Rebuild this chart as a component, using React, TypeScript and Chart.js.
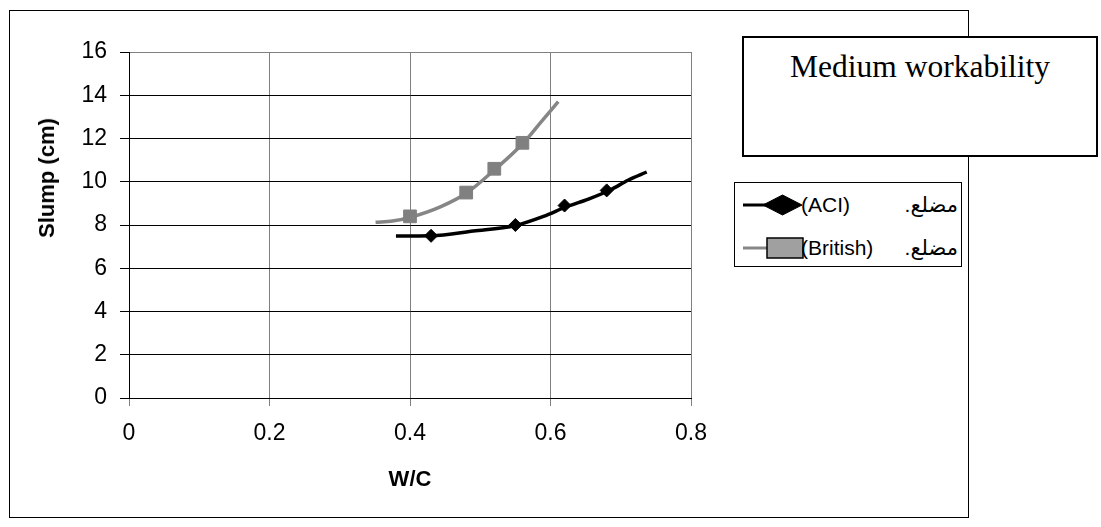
import React, { useEffect, useRef } from 'react';
import { Chart, registerables } from 'chart.js';

Chart.register(...registerables);

// Measured data points (markers)
const aciX = [0.43, 0.55, 0.62, 0.68];
const aciY = [7.5, 8.0, 8.9, 9.6];
const britishX = [0.40, 0.48, 0.52, 0.56];
const britishY = [8.4, 9.5, 10.6, 11.8];

// Polynomial trend curves
const aciTrendX = [0.38, 0.43, 0.49, 0.55, 0.59, 0.623, 0.654, 0.685, 0.711, 0.737];
const aciTrendY = [7.49, 7.5, 7.72, 7.98, 8.4, 8.85, 9.2, 9.62, 10.08, 10.45];
const britishTrendX = [0.351, 0.375, 0.401, 0.444, 0.481, 0.521, 0.561, 0.587, 0.611];
const britishTrendY = [8.13, 8.18, 8.36, 8.85, 9.49, 10.57, 11.78, 12.78, 13.7];

const xTickLabels = ['0', '0.2', '0.4', '0.6', '0.8'];
const yTickLabels = ['0', '2', '4', '6', '8', '10', '12', '14', '16'];
const legendLabels = ['مضلع. (ACI)', 'مضلع. (British)'];
const xTitle = 'W/C';
const yTitle = 'Slump (cm)';
const boxText = 'Medium workability';

const toPoints = (xs: number[], ys: number[]) => xs.map((x, i) => ({ x, y: ys[i] }));

const SANS = '"Liberation Sans", Arial, "DejaVu Sans", sans-serif';

export default function App() {
  const canvasRef = useRef<HTMLCanvasElement | null>(null);

  useEffect(() => {
    const canvas = canvasRef.current;
    if (!canvas) return;
    const chart = new Chart(canvas, {
      type: 'scatter',
      data: {
        datasets: [
          {
            label: 'ACI',
            data: toPoints(aciX, aciY),
            showLine: false,
            pointStyle: 'rectRot',
            pointRadius: 6.5,
            backgroundColor: '#000000',
            borderColor: '#000000',
            borderWidth: 1,
          },
          {
            label: 'British',
            data: toPoints(britishX, britishY),
            showLine: false,
            pointStyle: 'rect',
            pointRadius: 9,
            backgroundColor: '#808080',
            borderColor: '#808080',
            borderWidth: 1,
          },
          {
            label: legendLabels[0],
            data: toPoints(aciTrendX, aciTrendY),
            showLine: true,
            borderColor: '#000000',
            borderWidth: 3.5,
            pointRadius: 0,
            cubicInterpolationMode: 'monotone',
          },
          {
            label: legendLabels[1],
            data: toPoints(britishTrendX, britishTrendY),
            showLine: true,
            borderColor: '#868686',
            borderWidth: 3.5,
            pointRadius: 0,
            cubicInterpolationMode: 'monotone',
          },
        ],
      },
      options: {
        responsive: false,
        animation: false,
        devicePixelRatio: 1,
        layout: { padding: { left: 0, top: 52, right: 410, bottom: 0 } },
        plugins: { legend: { display: false }, tooltip: { enabled: false } },
        scales: {
          x: {
            type: 'linear',
            min: 0,
            max: 0.8,
            afterFit: (s: any) => { s.height = 129; },
            ticks: {
              stepSize: 0.2,
              callback: (_v: any, i: number) => xTickLabels[i],
              color: '#000',
              font: { family: SANS, size: 23 },
              padding: 14,
              maxRotation: 0,
            },
            grid: { color: '#808080', lineWidth: 1, tickLength: 8, tickColor: '#808080' },
            border: { color: '#000', width: 1 },
            title: {
              display: true,
              text: xTitle,
              color: '#000',
              font: { family: SANS, size: 22, weight: 'bold' },
              padding: { top: 0, bottom: 34 },
            },
          },
          y: {
            type: 'linear',
            min: 0,
            max: 16,
            afterFit: (s: any) => { s.width = 129; },
            ticks: {
              stepSize: 2,
              callback: (_v: any, i: number) => yTickLabels[i],
              color: '#000',
              font: { family: SANS, size: 23 },
              padding: 13,
            },
            grid: {
              color: (ctx: any) => (ctx.tick && ctx.tick.value === 16 ? '#808080' : '#000000'),
              lineWidth: 1,
              tickLength: 9,
              tickColor: '#000000',
            },
            border: { color: '#000', width: 1 },
            title: { display: false },
          },
        },
      },
    } as any);
    return () => chart.destroy();
  }, []);

  const legendRow = (i: number, top: number) => (
    <div key={i} style={{ position: 'absolute', left: 0, top, width: 226, height: 24 }}>
      <svg width={64} height={24} style={{ position: 'absolute', left: 8, top: 0 }}>
        {i === 0 ? (
          <g>
            <line x1={0} y1={12} x2={30} y2={12} stroke="#000" strokeWidth={3} />
            <polygon points="20,12 39.5,2 59,12 39.5,22" fill="#000" stroke="#000" strokeWidth={1} />
          </g>
        ) : (
          <g>
            <line x1={0} y1={12} x2={26} y2={12} stroke="#868686" strokeWidth={3} />
            <rect x={24} y={2} width={36} height={20} fill="#a0a0a0" stroke="#000" strokeWidth={1.5} />
          </g>
        )}
      </svg>
      <div
        dir="rtl"
        style={{
          position: 'absolute',
          left: 66,
          width: 157,
          top: 0,
          height: 24,
          lineHeight: '24px',
          fontFamily: SANS,
          fontSize: 21,
          color: '#000',
          whiteSpace: 'nowrap',
          textAlign: 'justify',
          textAlignLast: 'justify',
        }}
      >
        {legendLabels[i]}
      </div>
    </div>
  );

  return (
    <div style={{ position: 'fixed', left: 0, top: 0, width: 1101, height: 527, background: '#fff', overflow: 'hidden' }}>
      <div
        style={{
          position: 'absolute',
          left: 9,
          top: 10,
          width: 960,
          height: 508,
          boxSizing: 'border-box',
          border: '1px solid #000',
        }}
      />
      <canvas ref={canvasRef} width={1101} height={527} style={{ position: 'absolute', left: 0, top: 0, width: 1101, height: 527 }} />
      <div
        style={{
          position: 'absolute',
          left: 47,
          top: 178,
          transform: 'translate(-50%, -50%) rotate(-90deg)',
          fontFamily: SANS,
          fontWeight: 'bold',
          fontSize: 22,
          lineHeight: '26px',
          whiteSpace: 'nowrap',
          color: '#000',
        }}
      >
        {yTitle}
      </div>
      <div
        style={{
          position: 'absolute',
          left: 734,
          top: 182,
          width: 228,
          height: 85,
          boxSizing: 'border-box',
          border: '1px solid #000',
          background: '#fff',
        }}
      >
        {legendRow(0, 10)}
        {legendRow(1, 53)}
      </div>
      <div
        style={{
          position: 'absolute',
          left: 742,
          top: 36,
          width: 356,
          height: 121,
          boxSizing: 'border-box',
          border: '2px solid #000',
          background: '#fff',
          paddingTop: 10,
          textAlign: 'center',
          fontFamily: '"Liberation Serif", "Times New Roman", serif',
          fontSize: 31.5,
          lineHeight: '38px',
          color: '#000',
        }}
      >
        {boxText}
      </div>
    </div>
  );
}
